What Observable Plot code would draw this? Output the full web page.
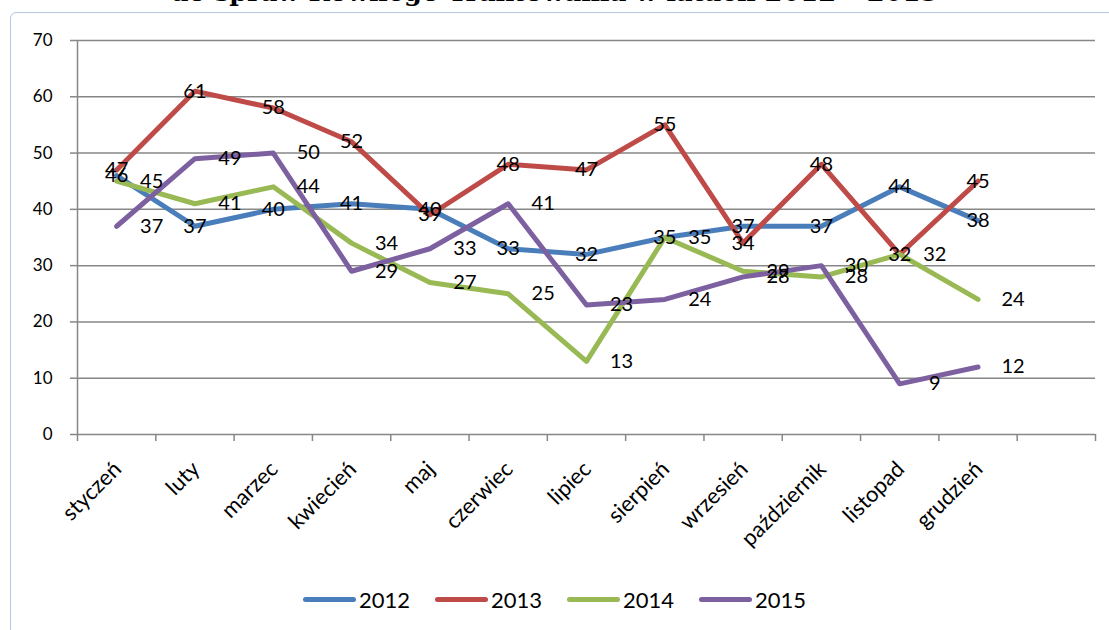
<!DOCTYPE html>
<html><head><meta charset="utf-8">
<script src="https://cdn.jsdelivr.net/npm/d3@7"></script>
<script src="https://cdn.jsdelivr.net/npm/@observablehq/plot@0.6"></script>
<style>
body{margin:0;background:#fff;}
#wrap{position:relative;width:1109px;height:630px;overflow:hidden;font-family:Lato,"Open Sans",sans-serif;background:#fff;}
#frame{position:absolute;left:10px;top:12px;width:1200px;height:700px;border:1px solid #b4c8e2;border-radius:6px;box-sizing:border-box;}
#title{position:absolute;left:0;width:1109px;top:0;text-align:center;font-family:"DejaVu Serif",serif;font-weight:bold;white-space:nowrap;line-height:1;}
#chart{position:absolute;left:0;top:0;}
#legend{position:absolute;top:584px;left:0;width:1109px;height:30px;display:flex;justify-content:center;align-items:center;font-size:22px;color:#000;}
.item{display:flex;align-items:center;margin:0 12.5px;}
.sw{display:inline-block;width:53px;height:5px;border-radius:3px;margin-right:3px;}
</style></head>
<body>
<div id="wrap">
  <div id="frame"></div>
  <div id="title"></div>
  <div id="chart"></div>
  <div id="legend"></div>
</div>
<script>
const titleText = "do spraw Równego Traktowania w latach 2012 – 2015";
const months = ["styczeń","luty","marzec","kwiecień","maj","czerwiec","lipiec","sierpień","wrzesień","październik","listopad","grudzień"];
const years = ["2012","2013","2014","2015"];
const colors = ["#4A7EBB","#BE4B48","#98B954","#7D60A0"];
const v2012 = [46,37,40,41,40,33,32,35,37,37,44,38];
const v2013 = [47,61,58,52,39,48,47,55,34,48,32,45];
const v2014 = [45,41,44,34,27,25,13,35,29,28,32,24];
const v2015 = [37,49,50,29,33,41,23,24,28,30,9,12];
const yTicks = [0,10,20,30,40,50,60,70];
const labelShift = {"2012":0,"2013":0,"2014":35,"2015":35};

const series = [v2012,v2013,v2014,v2015];
const rows = [];
series.forEach((vals,k)=>vals.forEach((v,i)=>rows.push({year:years[k], i, month:months[i], v})));
const bounds = d3.range(-0.5, 12.6, 1);
const gray = "#878787";

// title sizing
const tEl = document.getElementById("title");
const cv = document.createElement("canvas").getContext("2d");
cv.font = 'bold 100px "DejaVu Serif"';
const fs = 100*768/cv.measureText(titleText).width;
tEl.style.fontSize = fs+"px";
tEl.textContent = titleText;
tEl.style.top = (4 - fs*0.93)+"px";

const chart = Plot.plot({
  width:1109, height:560,
  marginLeft:77, marginRight:14, marginTop:40, marginBottom:126,
  style:{fontFamily:'Lato,"Open Sans",sans-serif', background:"transparent", overflow:"visible"},
  x:{type:"linear", domain:[-0.5,12.5], axis:null},
  y:{domain:[0,70], axis:null},
  color:{domain:years, range:colors},
  marks:[
    Plot.ruleY(yTicks.slice(1), {stroke:gray, strokeWidth:1.5}),
    Plot.ruleY([0], {stroke:gray, strokeWidth:1.5}),
    Plot.ruleX([-0.5], {stroke:gray, strokeWidth:1.5}),
    Plot.axisY({ticks:yTicks, label:null, tickSize:7, tickPadding:18, stroke:gray, strokeWidth:1.5, fill:"#000", fontSize:17, tickFormat:d=>String(d)}),
    Plot.axisX({ticks:bounds, label:null, tickSize:7, stroke:gray, strokeWidth:1.5, tickFormat:()=>""}),
    Plot.text(months, {x:(d,i)=>i, text:d=>d, frameAnchor:"bottom", rotate:-45, textAnchor:"end", lineAnchor:"middle", dx:1, dy:31, fontSize:22, fill:"#000"}),
    ...years.map(y=>Plot.line(rows.filter(r=>r.year===y), {x:"i", y:"v", stroke:"year", strokeWidth:5, strokeLinejoin:"round", strokeLinecap:"round"})),
    ...years.map(y=>Plot.text(rows.filter(r=>r.year===y), {x:"i", y:"v", text:d=>String(d.v), dx:labelShift[y], fill:"#000", fontSize:20}))
  ]
});
document.getElementById("chart").appendChild(chart);

const lg = document.getElementById("legend");
years.forEach((y,k)=>{
  const it = document.createElement("div"); it.className="item";
  const sw = document.createElement("span"); sw.className="sw"; sw.style.background=colors[k];
  const t = document.createElement("span"); t.textContent=y;
  it.appendChild(sw); it.appendChild(t); lg.appendChild(it);
});
</script>
</body></html>
